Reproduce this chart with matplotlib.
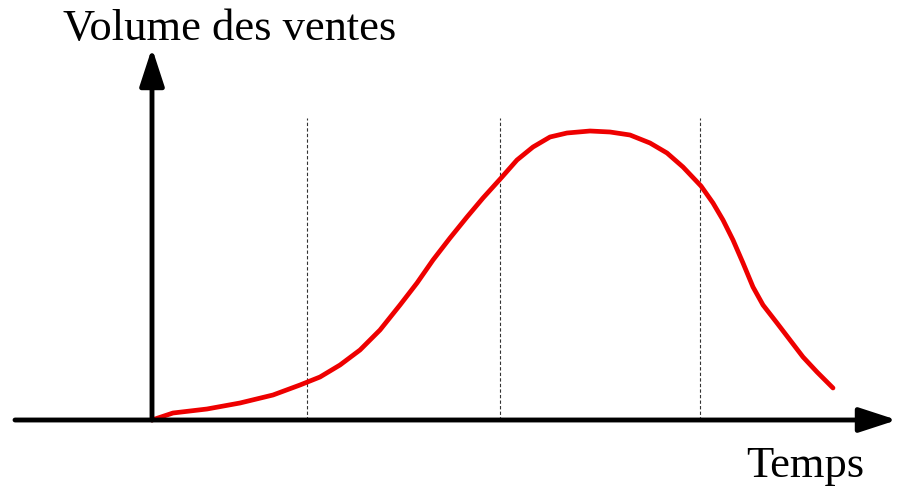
import matplotlib.pyplot as plt

# courbe du cycle de vie (origine = croisement des axes)
temps = [0, 21, 55, 88, 121, 148, 168, 188, 208, 228, 248, 265, 281, 298,
         315, 331, 350, 365, 381, 398, 415, 438, 458, 478, 498, 515, 531,
         549, 561, 571, 581, 591, 601, 611, 625, 638, 651, 665, 681]
volume = [0, 7, 11, 17, 25, 35, 43, 55, 70, 90, 115, 137, 160, 182,
          203, 222, 243, 260, 273, 283, 287, 289, 288, 285, 277, 267, 253,
          234, 217, 200, 180, 157, 133, 115, 97, 80, 63, 48, 32]

phases = [155, 348, 548]
haut_phases = 302

fig = plt.figure(figsize=(9, 4.87), dpi=100)
ax = fig.add_axes([0, 0, 1, 1])
ax.set_xlim(-152, 748)
ax.set_ylim(-67, 420)
ax.axis('off')

for p in phases:
    ax.plot([p, p], [0, haut_phases], color='#333333', lw=0.8,
            linestyle=(0, (3, 2)))

# axes flechés
ax.annotate('', xy=(0, 372), xytext=(0, 0),
            arrowprops=dict(arrowstyle='-|>,head_length=2.3,head_width=0.75',
                            color='black', lw=3.5, shrinkA=0, shrinkB=0))
ax.annotate('', xy=(745, 0), xytext=(-137, 0),
            arrowprops=dict(arrowstyle='-|>,head_length=2.3,head_width=0.75',
                            color='black', lw=3.5, shrinkA=0, shrinkB=0))

ax.plot(temps, volume, color='#ee0000', lw=3.4, solid_capstyle='round',
        solid_joinstyle='round')

ax.text(230 - 152, 420 - 40, 'Volume des ventes', family='Liberation Serif',
        fontsize=32, ha='center', va='baseline')
ax.text(805 - 152, 420 - 477, 'Temps', family='Liberation Serif',
        fontsize=32, ha='center', va='baseline')

fig.savefig('out.png', dpi=100)
